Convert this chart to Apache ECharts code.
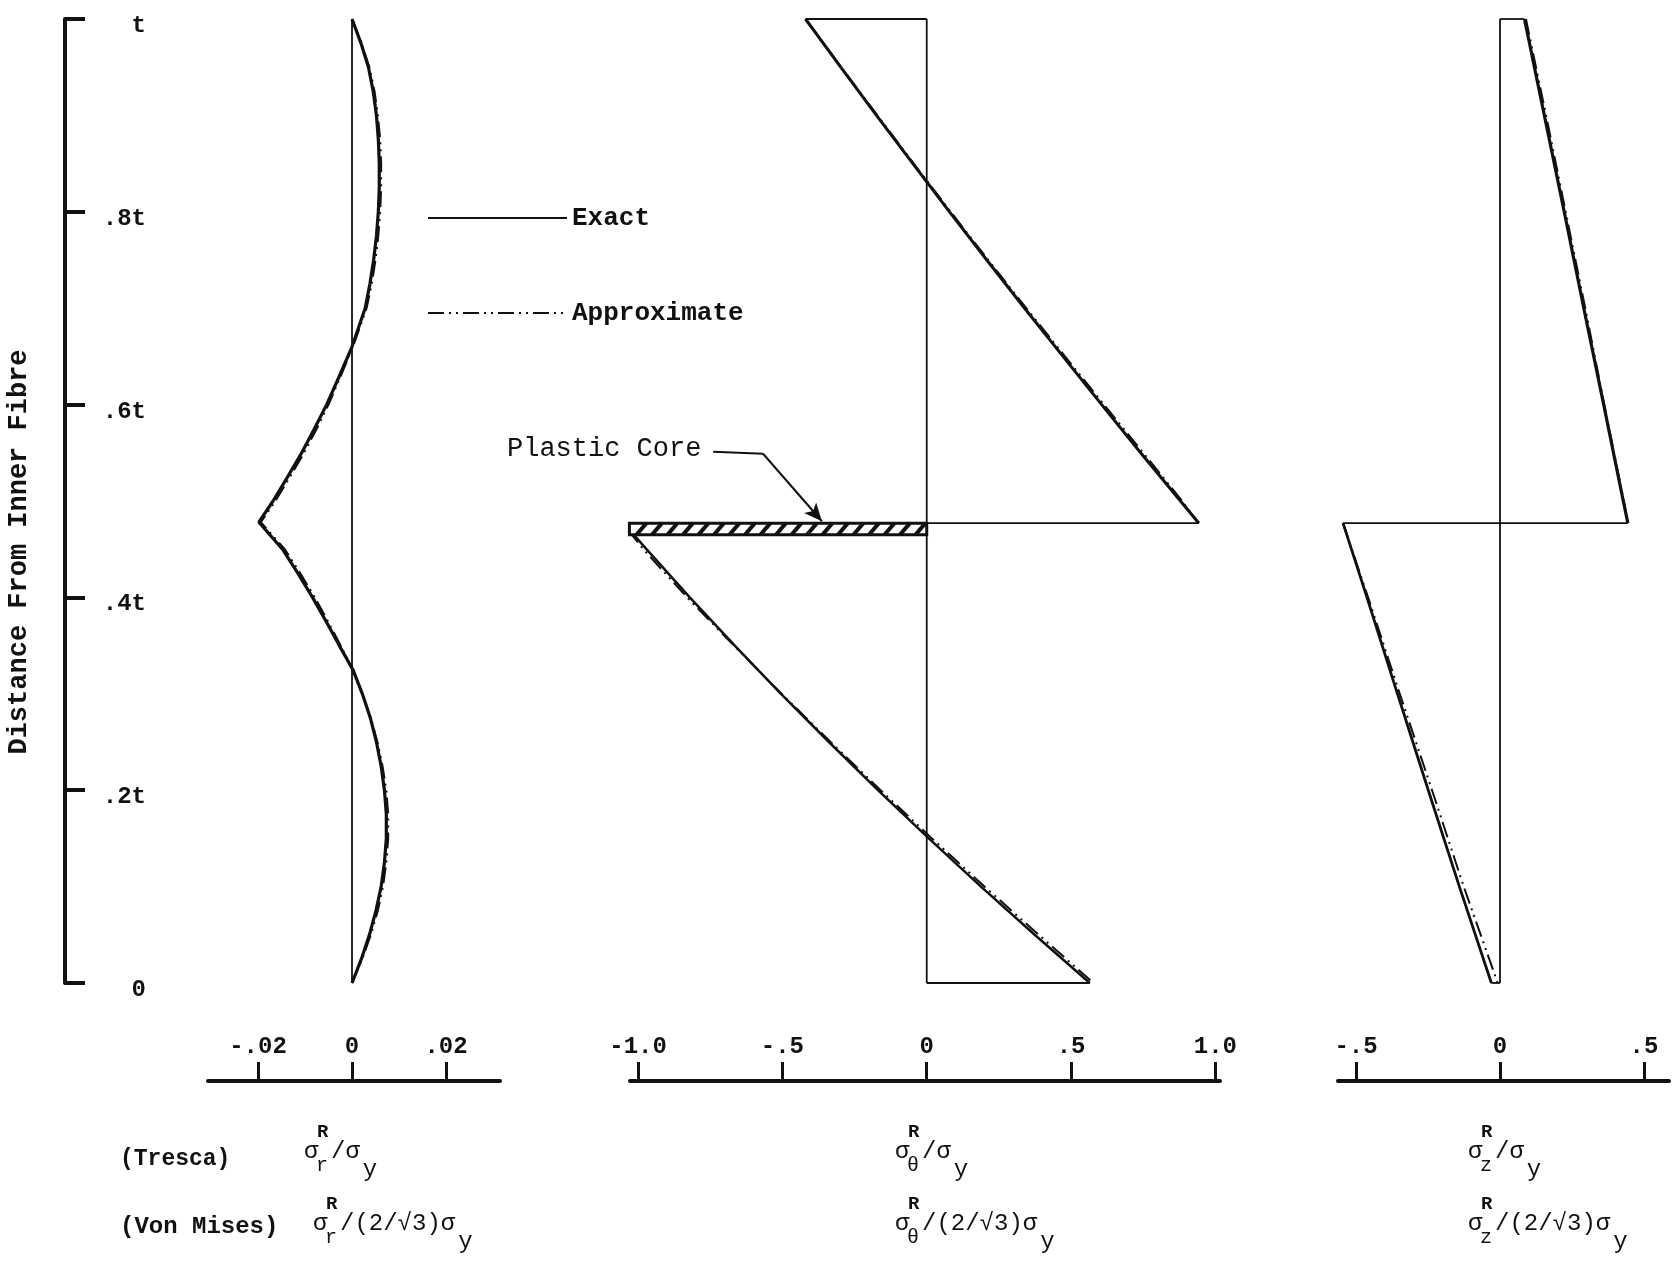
<!DOCTYPE html>
<html><head><meta charset="utf-8">
<script src="https://cdn.jsdelivr.net/npm/echarts@6/dist/echarts.min.js"></script>
<style>html,body{margin:0;padding:0;background:#fff}#c{width:1674px;height:1266px}</style>
</head><body><div id="c"></div>
<script>
// ---------- tick labels ----------
const depthTicks = [0, 0.2, 0.4, 0.6, 0.8, 1];
const depthTickLabels = ['0', '.2t', '.4t', '.6t', '.8t', 't'];
const rTicks = [-0.02, 0, 0.02];
const rTickLabels = ['-.02', '0', '.02'];
const thTicks = [-1, -0.5, 0, 0.5, 1];
const thTickLabels = ['-1.0', '-.5', '0', '.5', '1.0'];
const zTicks = [-0.5, 0, 0.5];
const zTickLabels = ['-.5', '0', '.5'];

// ---------- sigma_r (radial) ----------
const rDepth  = [0, 0.025, 0.05, 0.075, 0.1, 0.125, 0.15, 0.175, 0.2, 0.225, 0.25, 0.275, 0.3, 0.325, 0.35, 0.375, 0.4, 0.425, 0.45, 0.478, 0.5, 0.525, 0.55, 0.575, 0.6, 0.625, 0.66, 0.7, 0.725, 0.75, 0.775, 0.8, 0.825, 0.85, 0.875, 0.9, 0.925, 0.95, 0.975, 1];
const rExact  = [0, 0.0020, 0.0037, 0.0051, 0.0062, 0.0069, 0.0073, 0.0073, 0.0069, 0.0062, 0.0052, 0.0039, 0.0022, 0.0002, -0.0027, -0.0055, -0.0084, -0.0115, -0.0148, -0.0198, -0.0168, -0.0137, -0.0107, -0.0080, -0.0054, -0.0031, 0, 0.0028, 0.0038, 0.0046, 0.0052, 0.0056, 0.0058, 0.0058, 0.0056, 0.0052, 0.0045, 0.0035, 0.0019, 0];
const rApprox = [0, 0.0022, 0.0040, 0.0055, 0.0066, 0.0073, 0.0077, 0.0077, 0.0073, 0.0065, 0.0054, 0.0040, 0.0022, 0.0001, -0.0024, -0.0051, -0.0079, -0.0110, -0.0143, -0.0194, -0.0163, -0.0132, -0.0102, -0.0075, -0.0050, -0.0028, 0.0002, 0.0031, 0.0042, 0.0050, 0.0056, 0.0060, 0.0062, 0.0062, 0.0060, 0.0055, 0.0048, 0.0037, 0.0020, 0];
const rZeroX = [0, 0];
const rZeroY = [0, 1];

// ---------- sigma_theta (hoop) ----------
const thUpperDepth  = [1, 0.95, 0.9, 0.85, 0.8, 0.75, 0.7, 0.65, 0.6, 0.55, 0.5, 0.477];
const thUpperExact  = [-0.42, -0.298, -0.174, -0.048, 0.079, 0.208, 0.339, 0.472, 0.606, 0.741, 0.879, 0.943];
const thUpperApprox = [-0.42, -0.296, -0.171, -0.045, 0.083, 0.213, 0.345, 0.479, 0.614, 0.750, 0.885, 0.940];
const thLowerDepth  = [0.47, 0.45, 0.4, 0.35, 0.3, 0.25, 0.2, 0.15, 0.1, 0.05, 0];
const thLowerExact  = [-1.03, -0.971, -0.821, -0.665, -0.505, -0.339, -0.169, 0.007, 0.188, 0.374, 0.565];
const thLowerApprox = [-1.035, -0.982, -0.830, -0.668, -0.503, -0.333, -0.160, 0.018, 0.200, 0.388, 0.578];
const thOutlineX = [[0, 0], [-0.42, 0], [0.943, -1.03], [0, 0.565]];
const thOutlineY = [[0, 1], [1, 1], [0.477, 0.477], [0, 0]];
const coreBandX = [-1.03, 0];
const coreBandY = [0.465, 0.477];
const coreLeaderX = [-0.740, -0.567, -0.363];
const coreLeaderY = [0.551, 0.549, 0.479];

// ---------- sigma_z (axial) ----------
const zUpperDepth  = [1, 0.9, 0.8, 0.7, 0.6, 0.5, 0.477];
const zUpperExact  = [0.085, 0.154, 0.223, 0.291, 0.360, 0.428, 0.444];
const zUpperApprox = [0.090, 0.160, 0.228, 0.296, 0.362, 0.430, 0.444];
const zLowerDepth  = [0.477, 0.4, 0.3, 0.2, 0.1, 0];
const zLowerExact  = [-0.545, -0.462, -0.356, -0.249, -0.141, -0.030];
const zLowerApprox = [-0.545, -0.458, -0.348, -0.236, -0.126, -0.008];
const zOutlineX = [[0, 0], [0, 0.085], [0.444, -0.545], [-0.030, 0]];
const zOutlineY = [[0, 1], [1, 1], [0.477, 0.477], [0, 0]];

// ---------- helpers ----------
const INK = '#111';
const FONT = '"Liberation Mono", "DejaVu Sans Mono", monospace';
const DASH = [16, 5, 2, 5, 2, 5];
const pts = (xs, ys) => xs.map((x, i) => [x, ys[i]]);
const lookup = (ticks, labels) => v => {
  const i = ticks.findIndex(t => Math.abs(t - v) < 1e-9);
  return i >= 0 ? labels[i] : '';
};

function xAxisFor(grid, min, max, ticks, labels) {
  return {
    gridIndex: grid, type: 'value', min: min, max: max, position: 'bottom', offset: 98,
    axisLine: { show: true, onZero: false, lineStyle: { color: INK, width: 4 } },
    axisTick: { show: true, inside: true, length: 19, customValues: ticks, lineStyle: { color: INK, width: 3 } },
    axisLabel: { show: true, inside: true, margin: 22, customValues: ticks, formatter: lookup(ticks, labels),
      color: INK, fontFamily: FONT, fontSize: 24, fontWeight: 'bold' },
    splitLine: { show: false }
  };
}
function yAxisFor(grid, visible) {
  return {
    gridIndex: grid, type: 'value', min: 0, max: 1, show: visible, offset: visible ? 143 : 0,
    axisLine: { show: true, onZero: false, lineStyle: { color: INK, width: 4 } },
    axisTick: { show: true, inside: true, length: 20, customValues: depthTicks, lineStyle: { color: INK, width: 4 } },
    axisLabel: { show: true, inside: true, margin: 81, align: 'right', verticalAlign: 'top', lineHeight: 14,
      customValues: depthTicks, formatter: lookup(depthTicks, depthTickLabels),
      color: INK, fontFamily: FONT, fontSize: 24, fontWeight: 'bold' },
    splitLine: { show: false }
  };
}
function lineSeries(name, grid, data, width, dashed, z) {
  return {
    type: 'line', name: name, xAxisIndex: grid, yAxisIndex: grid, data: data,
    symbol: 'none', smooth: false, silent: true, z: z || 2,
    lineStyle: { color: INK, width: width, type: dashed ? DASH : 'solid' },
    itemStyle: { color: INK }
  };
}

const series = [];
// panel 1
series.push(lineSeries('zero-r', 0, pts(rZeroX, rZeroY), 1.8, false, 1));
series.push(lineSeries('Exact', 0, pts(rExact, rDepth), 3.2, false, 3));
series.push(lineSeries('Approximate', 0, pts(rApprox, rDepth), 2, true, 4));
// panel 2
thOutlineX.forEach((xs, i) => series.push(lineSeries('outline-th' + i, 1, pts(xs, thOutlineY[i]), 1.8, false, 1)));
series.push(lineSeries('Exact', 1, pts(thUpperExact, thUpperDepth), 3, false, 3));
series.push(lineSeries('Exact', 1, pts(thLowerExact, thLowerDepth), 2.5, false, 3));
series.push(lineSeries('Approximate', 1, pts(thUpperApprox, thUpperDepth), 2, true, 4));
series.push(lineSeries('Approximate', 1, pts(thLowerApprox, thLowerDepth), 2, true, 4));
series.push({
  type: 'custom', name: 'core', xAxisIndex: 1, yAxisIndex: 1, silent: true, z: 5,
  encode: { x: [0, 1], y: [2, 3] },
  data: [[coreBandX[0], coreBandX[1], coreBandY[0], coreBandY[1]]],
  renderItem: function (params, api) {
    const a = api.coord([api.value(0), api.value(3)]);
    const b = api.coord([api.value(1), api.value(2)]);
    const x0 = a[0], y0 = a[1], x1 = b[0], y1 = b[1];
    const ch = [{ type: 'rect', shape: { x: x0, y: y0, width: x1 - x0, height: y1 - y0 },
      style: { fill: '#fff', stroke: INK, lineWidth: 3 } }];
    for (let x = x0 + 12; x < x1 - 4; x += 15.5) {
      ch.push({ type: 'line', shape: { x1: x - 5, y1: y1, x2: x + 5, y2: y0 }, style: { stroke: INK, lineWidth: 4 } });
    }
    return { type: 'group', children: ch };
  }
});
series.push({
  type: 'line', name: 'leader', xAxisIndex: 1, yAxisIndex: 1, silent: true, symbol: 'none', z: 6,
  data: pts(coreLeaderX.slice(0, 2), coreLeaderY.slice(0, 2)),
  lineStyle: { color: INK, width: 2 },
  markLine: {
    silent: true, symbol: ['none', 'arrow'], symbolSize: [12, 18], label: { show: false },
    lineStyle: { color: INK, width: 2, type: 'solid' },
    data: [[{ coord: [coreLeaderX[1], coreLeaderY[1]] }, { coord: [coreLeaderX[2], coreLeaderY[2]] }]]
  }
});
// panel 3
zOutlineX.forEach((xs, i) => series.push(lineSeries('outline-z' + i, 2, pts(xs, zOutlineY[i]), 1.8, false, 1)));
series.push(lineSeries('Exact', 2, pts(zUpperExact, zUpperDepth), 3.2, false, 3));
series.push(lineSeries('Exact', 2, pts(zLowerExact, zLowerDepth), 2.8, false, 3));
series.push(lineSeries('Approximate', 2, pts(zUpperApprox, zUpperDepth), 2, true, 4));
series.push(lineSeries('Approximate', 2, pts(zLowerApprox, zLowerDepth), 2, true, 4));

// ---------- bottom axis titles ----------
function sigmaLabel(x, cy, sub, rest) {
  const cw = 14.4;
  const restX = x + 27;
  return [
    { type: 'text', x: x, y: cy, style: { text: 'σ', fontFamily: FONT, fontSize: 24, fill: INK, align: 'left', verticalAlign: 'middle' } },
    { type: 'text', x: x + 13, y: cy - 20, style: { text: 'R', fontFamily: FONT, fontSize: 19, fontWeight: 'bold', fill: INK, align: 'left', verticalAlign: 'middle' } },
    { type: 'text', x: x + 12, y: cy + 14, style: { text: sub, fontFamily: FONT, fontSize: 20, fill: INK, align: 'left', verticalAlign: 'middle' } },
    { type: 'text', x: restX, y: cy, style: { text: rest, fontFamily: FONT, fontSize: 24, fill: INK, align: 'left', verticalAlign: 'middle' } },
    { type: 'text', x: restX + rest.length * cw + 3, y: cy + 18, style: { text: 'y', fontFamily: FONT, fontSize: 24, fill: INK, align: 'left', verticalAlign: 'middle' } }
  ];
}
const rowTresca = 1152, rowMises = 1224;
const graphics = [
  { type: 'text', x: 19, y: 552, rotation: Math.PI / 2,
    style: { text: 'Distance From Inner Fibre', fontFamily: FONT, fontSize: 27, fontWeight: 'bold', fill: INK, align: 'center', verticalAlign: 'middle' } },
  { type: 'text', x: 507, y: 449,
    style: { text: 'Plastic Core', fontFamily: FONT, fontSize: 27, fill: INK, align: 'left', verticalAlign: 'middle' } },
  { type: 'text', x: 120, y: rowTresca + 7,
    style: { text: '(Tresca)', fontFamily: FONT, fontSize: 23, fontWeight: 'bold', fill: INK, align: 'left', verticalAlign: 'middle' } },
  { type: 'text', x: 120, y: rowMises + 3,
    style: { text: '(Von Mises)', fontFamily: FONT, fontSize: 24, fontWeight: 'bold', fill: INK, align: 'left', verticalAlign: 'middle' } }
]
  .concat(sigmaLabel(304, rowTresca, 'r', '/σ'))
  .concat(sigmaLabel(313, rowMises, 'r', '/(2/√3)σ'))
  .concat(sigmaLabel(895, rowTresca, 'θ', '/σ'))
  .concat(sigmaLabel(895, rowMises, 'θ', '/(2/√3)σ'))
  .concat(sigmaLabel(1468, rowTresca, 'z', '/σ'))
  .concat(sigmaLabel(1468, rowMises, 'z', '/(2/√3)σ'));

const chart = echarts.init(document.getElementById('c'), null, { renderer: 'canvas' });
chart.setOption({
  backgroundColor: '#fff',
  animation: false,
  textStyle: { fontFamily: FONT, color: INK },
  grid: [
    { left: 208, width: 292, top: 19, bottom: 283, containLabel: false },
    { left: 630, width: 590, top: 19, bottom: 283, containLabel: false },
    { left: 1338, width: 331, top: 19, bottom: 283, containLabel: false }
  ],
  xAxis: [
    xAxisFor(0, -0.03064, 0.03149, rTicks, rTickLabels),
    xAxisFor(1, -1.028, 1.016, thTicks, thTickLabels),
    xAxisFor(2, -0.5625, 0.5868, zTicks, zTickLabels)
  ],
  yAxis: [yAxisFor(0, true), yAxisFor(1, false), yAxisFor(2, false)],
  legend: {
    data: ['Exact', 'Approximate'], orient: 'vertical', left: 422, top: 200,
    itemWidth: 139, itemHeight: 26, itemGap: 69, selectedMode: false,
    itemStyle: { opacity: 0 },
    textStyle: { fontFamily: FONT, fontSize: 26, fontWeight: 'bold', color: INK, lineHeight: 26 }
  },
  graphic: graphics,
  series: series
});
</script>
</body></html>
